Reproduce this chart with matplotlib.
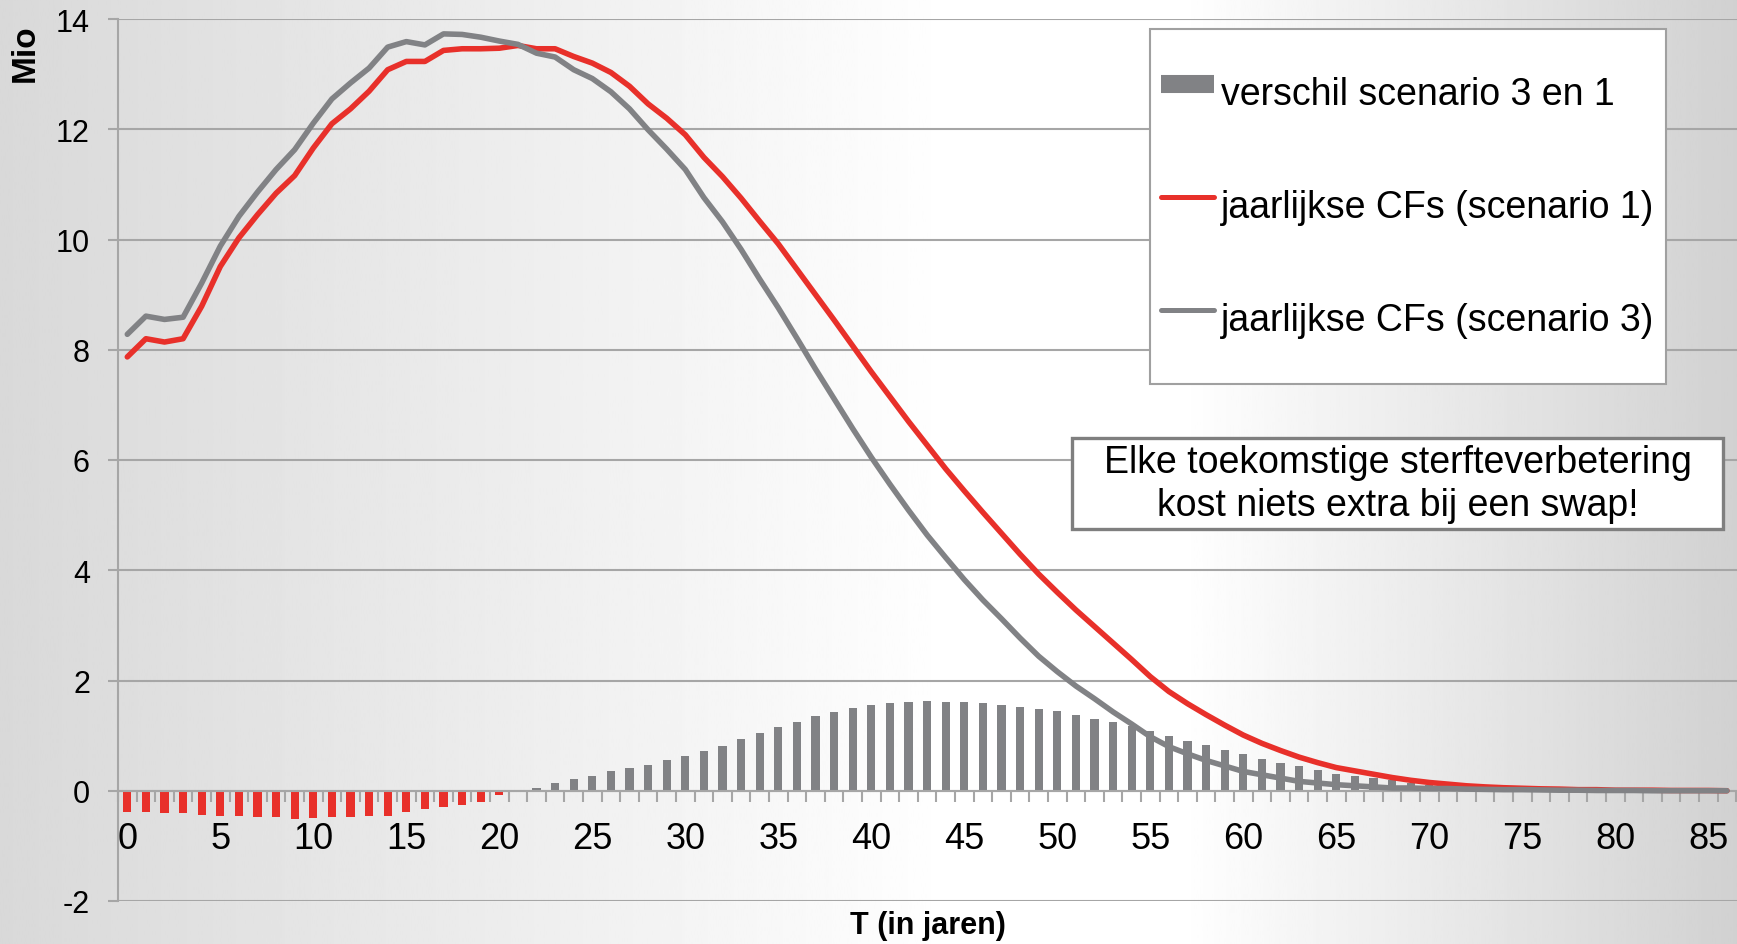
import numpy as np
import matplotlib.pyplot as plt
from matplotlib.lines import Line2D
from matplotlib.patches import Rectangle
from matplotlib.legend_handler import HandlerLine2D

plt.rcParams['font.family'] = ['Liberation Sans', 'DejaVu Sans']
plt.rcParams['axes.unicode_minus'] = False

# %%
# jaarlijkse cashflows (Mio) per jaar T = 0..86
years = np.arange(0, 87)

cf_scenario1 = [
    7.87, 8.20, 8.14, 8.20, 8.79, 9.51, 10.03, 10.45, 10.84, 11.16,
    11.66, 12.10, 12.37, 12.69, 13.08, 13.23, 13.23, 13.43, 13.46, 13.46,
    13.47, 13.52, 13.46, 13.46, 13.32, 13.20, 13.03, 12.78, 12.46, 12.20,
    11.90, 11.49, 11.14, 10.75, 10.33, 9.92, 9.46, 9.00, 8.54, 8.07,
    7.60, 7.15, 6.70, 6.27, 5.84, 5.44, 5.05, 4.67, 4.29, 3.93,
    3.60, 3.28, 2.98, 2.68, 2.38, 2.07, 1.80, 1.58, 1.38, 1.19,
    1.01, 0.86, 0.73, 0.61, 0.51, 0.42, 0.36, 0.30, 0.24, 0.19,
    0.15, 0.12, 0.09, 0.07, 0.055, 0.045, 0.035, 0.03, 0.02, 0.02,
    0.01, 0.01, 0.01, 0.005, 0.005, 0.005, 0.0,
]

cf_scenario3 = [
    8.28, 8.61, 8.55, 8.59, 9.21, 9.88, 10.42, 10.86, 11.27, 11.63,
    12.11, 12.55, 12.84, 13.11, 13.49, 13.59, 13.53, 13.73, 13.72, 13.67,
    13.60, 13.54, 13.38, 13.31, 13.08, 12.92, 12.68, 12.37, 11.99, 11.64,
    11.27, 10.76, 10.32, 9.82, 9.28, 8.76, 8.21, 7.65, 7.11, 6.57,
    6.05, 5.56, 5.09, 4.64, 4.23, 3.83, 3.46, 3.12, 2.77, 2.44,
    2.16, 1.90, 1.67, 1.43, 1.21, 0.98, 0.80, 0.67, 0.55, 0.45,
    0.35, 0.29, 0.23, 0.17, 0.14, 0.11, 0.09, 0.07, 0.05, 0.05,
    0.04, 0.04, 0.03, 0.025, 0.02, 0.02, 0.015, 0.01, 0.01, 0.005,
    0.005, 0.005, 0.0, 0.0, 0.0, 0.0, 0.0,
]

verschil = [
    -0.39, -0.39, -0.41, -0.41, -0.44, -0.45, -0.45, -0.47, -0.47, -0.51,
    -0.49, -0.47, -0.47, -0.45, -0.45, -0.38, -0.33, -0.29, -0.25, -0.20,
    -0.085, -0.01, 0.05, 0.14, 0.21, 0.27, 0.35, 0.41, 0.47, 0.56,
    0.63, 0.73, 0.82, 0.93, 1.05, 1.16, 1.25, 1.35, 1.43, 1.50,
    1.55, 1.59, 1.61, 1.63, 1.61, 1.61, 1.59, 1.55, 1.52, 1.49,
    1.44, 1.38, 1.31, 1.25, 1.17, 1.09, 1.00, 0.91, 0.83, 0.74,
    0.66, 0.57, 0.50, 0.44, 0.37, 0.31, 0.27, 0.23, 0.19, 0.14,
    0.11, 0.08, 0.06, 0.045, 0.035, 0.025, 0.02, 0.015, 0.01, 0.01,
    0.005, 0.005, 0.0, 0.0, 0.0, 0.0, 0.0,
]

labels = ["verschil scenario 3 en 1", "jaarlijkse CFs (scenario 1)", "jaarlijkse CFs (scenario 3)"]
note = "Elke toekomstige sterfteverbetering\nkost niets extra bij een swap!"

RED = '#e8302a'
GREY = '#818285'
AXGREY = '#a6a6a6'


class LoweredLine(HandlerLine2D):
    # legend handle a bit lower so it lines up with the text
    def create_artists(self, *args, **kwargs):
        artists = super().create_artists(*args, **kwargs)
        for a in artists:
            a.set_ydata(np.asarray(a.get_ydata()) - 8.5)
        return artists


# %%
W, H = 1737, 945
fig = plt.figure(figsize=(W / 100, H / 100), dpi=100)

# achtergrond: grijs -> wit -> grijs
bg = fig.add_axes([0, 0, 1, 1], zorder=-1)
xs = np.linspace(0, 1, 600)
shade = np.interp(xs, [0, 0.55, 0.68, 1.0], [0.85, 1.0, 1.0, 0.82])
bg.imshow(shade[None, :], aspect='auto', cmap='gray', vmin=0, vmax=1, extent=[0, 1, 0, 1])
bg.axis('off')

ax = fig.add_axes([118 / W, 43 / H, 1 - 118 / W, 882 / H])
ax.set_facecolor('none')

bar_colors = [RED if v < 0 else GREY for v in verschil]
ax.bar(years, verschil, width=0.44, color=bar_colors, zorder=2)
ax.plot(years, cf_scenario1, color=RED, lw=4, solid_capstyle='round', solid_joinstyle='round', zorder=3)
ax.plot(years, cf_scenario3, color=GREY, lw=4, solid_capstyle='round', solid_joinstyle='round', zorder=4)

ax.set_xlim(-0.5, -0.5 + (W - 118) / 18.6)
ax.set_ylim(-2, 14)
ax.set_yticks(range(-2, 15, 2))
ax.yaxis.grid(True, color=AXGREY, lw=1.5)
ax.set_axisbelow(True)

for s in ['top', 'right']:
    ax.spines[s].set_visible(False)
ax.spines['left'].set_color(AXGREY)
ax.spines['left'].set_linewidth(1.5)
ax.spines['bottom'].set_position(('data', 0))
ax.spines['bottom'].set_color(AXGREY)
ax.spines['bottom'].set_linewidth(1.5)
ax.spines['bottom'].set_bounds(-0.5, 86.5)

ax.set_xticks(range(0, 86, 5))
ax.set_xticks(np.arange(-0.5, 87, 1), minor=True)
ax.tick_params(axis='x', which='major', length=0, pad=22, labelsize=26)
ax.tick_params(axis='x', which='minor', length=8, width=1.5, color=AXGREY, direction='out')
ax.tick_params(axis='y', length=7.2, width=1.5, color=AXGREY, pad=13, labelsize=22)

ax.set_xlabel("T (in jaren)", fontsize=22, fontweight='bold')
ax.xaxis.set_label_coords((928 - 118) / 1619, (902 - 911) / 882)
ax.set_ylabel("Mio", fontsize=24, fontweight='bold')
ax.yaxis.set_label_coords((41 - 118) / 1619, (902 - 53) / 882)

handles = [
    Line2D([], [], color=GREY, lw=13, solid_capstyle='butt'),
    Line2D([], [], color=RED, lw=3.6, solid_capstyle='round'),
    Line2D([], [], color=GREY, lw=3.6, solid_capstyle='round'),
]
leg = ax.legend(handles, labels, loc='upper left', bbox_to_anchor=(1150 / W, 1 - 30 / H),
                bbox_transform=fig.transFigure, borderaxespad=0, fontsize=27,
                handlelength=1.4, handletextpad=0.2, handleheight=4.0,
                labelspacing=0.17, borderpad=0.3, fancybox=False, framealpha=1,
                handler_map={Line2D: LoweredLine()})
leg.get_frame().set_edgecolor('#a0a0a0')
leg.get_frame().set_linewidth(1.5)

fig.add_artist(Rectangle((1072 / W, 1 - 530 / H), 651 / W, 91 / H, transform=fig.transFigure,
                         facecolor='white', edgecolor='#7f7f7f', lw=2.4, zorder=5))
fig.text(1398 / W, 1 - 485 / H, note, ha='center', va='center', fontsize=27,
         linespacing=1.25, zorder=6)

fig.savefig("out.png", dpi=100)
